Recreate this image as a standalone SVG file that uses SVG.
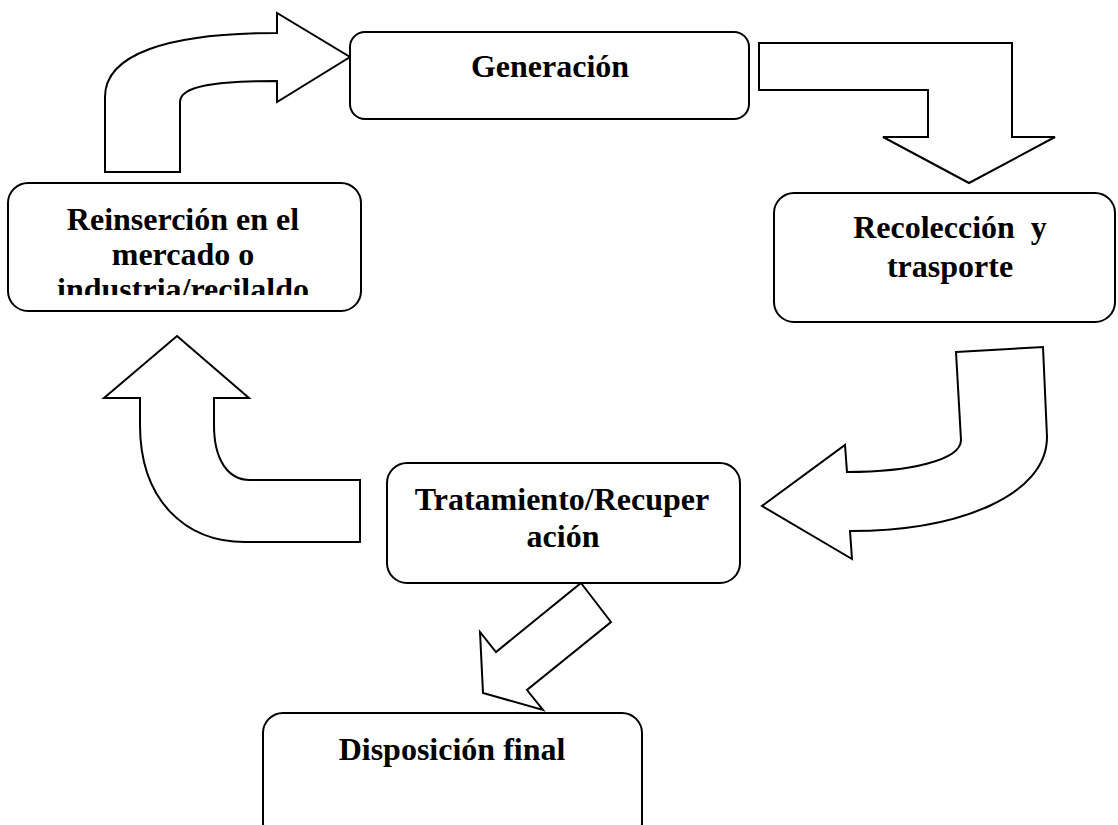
<svg xmlns="http://www.w3.org/2000/svg" width="1118" height="825" viewBox="0 0 1118 825">
<style>
.box{fill:#fff;stroke:#000;stroke-width:2}
.arr{fill:#fff;stroke:#000;stroke-width:2;stroke-linejoin:miter}
.t{font-family:"Liberation Serif","Times New Roman",serif;font-weight:bold;font-size:32px;fill:#000;text-anchor:middle}
</style>
<defs>
<clipPath id="clipRein"><rect x="9" y="184" width="351" height="111"/></clipPath>
</defs>
<rect width="1118" height="825" fill="#fff"/>
<g id="connectors">
<path class="arr" d="M105,172 L105,97 C105,55 165,33 277,33 L277,13 L350,57 L277,102 L277,81 C215,81 180,86 180,102 L180,172 Z"/>
<polygon class="arr" points="759,43 1012,43 1012,137 1055,137 969,183 883,137 928,137 928,90 759,90"/>
<path class="arr" d="M956,352 L1043,347 L1047,437 C1047,495 960,531 850,531 L852,559 L762,506 L845,445 L847,472 C910,472 961,460 961,440 Z"/>
<path class="arr" d="M177,336 L249,398 L214,398 L214,425 C214,460 228,480 250,480 L360,480 L360,542 L245,542 C185,542 140,500 140,425 L140,398 L104,398 Z"/>
<polygon class="arr" points="581,583 611,622 527,690 543,710 483,693 480,632 496,652"/>
</g>
<g id="gen">
<rect class="box" x="350" y="32" width="399" height="87" rx="15"/>
<text class="t" x="550" y="77">Generación</text>
</g>
<g id="rec">
<rect class="box" x="774" y="193" width="341" height="129" rx="20"/>
<text class="t" x="950" y="238" xml:space="preserve">Recolección  y</text>
<text class="t" x="950" y="277">trasporte</text>
</g>
<g id="trat">
<rect class="box" x="387" y="463" width="353" height="120" rx="20"/>
<text class="t" x="562" y="510">Tratamiento/Recuper</text>
<text class="t" x="563" y="547">ación</text>
</g>
<g id="disp">
<rect class="box" x="263" y="713" width="379" height="130" rx="20"/>
<text class="t" x="452" y="760">Disposición final</text>
</g>
<g id="rein">
<rect class="box" x="8" y="183" width="353" height="128" rx="20"/>
<text class="t" x="183" y="230">Reinserción en el</text>
<text class="t" x="183" y="265">mercado o</text>
<text class="t" x="183" y="300" clip-path="url(#clipRein)">industria/recilaldo</text>
</g>
</svg>
